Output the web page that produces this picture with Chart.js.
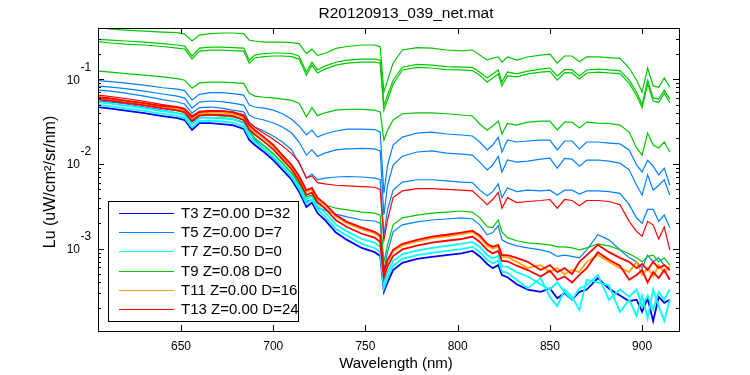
<!DOCTYPE html>
<html>
<head>
<meta charset="utf-8">
<script src="https://cdn.jsdelivr.net/npm/chart.js@4.4.1/dist/chart.umd.min.js"></script>
<style>
  html, body { margin: 0; padding: 0; background: #fff; }
  canvas { display: block; }
</style>
</head>
<body>
<canvas id="myChartLu" width="750" height="375"></canvas>
<script>
// Longitudes de onda (nm)
var wavelength = [605,612,620,630,640,648,652,656,660,666,672,678,684,687,690,695,700,705,710,714,
  718,721,724,728,734,740,748,755,758,760,762,765,770,778,786,794,802,808,812,816,
  819,822,824,827,832,838,845,850,854,858,862,866,870,876,882,888,893,897,900,903,906,909,912,915];

// T3 (azul oscuro)
var t3_1 = [.0468,.0449,.0425,.0397,.0366,.0347,.0329,.0251,.0303,.0303,.0295,.0287,.0258,.0191,.0167,.0138,.0111,.0085,.0065,.0047,
  .0031,.0035,.00263,.00218,.00155,.00127,.00102,.00091,.00082,.00031,.0004,.00056,.00068,.00076,.0008,.00084,.00088,.00094,.00081,.00066,
  .00059,.00064,.00049,.00046,.00038,.00033,.00031,.00034,.00026,.0003,.00025,.00031,.00033,.00045,.00034,.00028,.00024,.00025,.00018,.00026,.00014,.00027,.00023,.00025];

// T5 (azul claro)
var t5_1 = [.096,.0935,.0897,.085,.079,.076,.073,.0566,.066,.0693,.0693,.0675,.0648,.0494,.0468,.0455,.043,.039,.0335,.028,
  .0219,.025,.0207,.0225,.0244,.0257,.0257,.0254,.0237,.0045,.0097,.0167,.0207,.0231,.0237,.0225,.0219,.0213,.0181,.0146,
  .0167,.0207,.0138,.0191,.0181,.0186,.0191,.0191,.0146,.0186,.0186,.015,.0181,.0181,.0176,.0172,.0146,.0097,.008,.011,.0094,.0074,.0089,.0056];
var t5_2 = [.0827,.0805,.0773,.0722,.0666,.063,.0597,.0455,.0536,.0551,.0543,.0521,.0494,.0377,.0347,.0329,.0303,.0272,.0231,.0181,
  .0127,.0146,.0123,.0134,.0146,.015,.0152,.015,.0142,.0025,.0056,.0097,.0123,.0138,.0142,.0134,.013,.0127,.0105,.0085,
  .0097,.0123,.008,.0111,.0105,.0108,.0114,.0117,.0089,.0116,.0114,.0094,.0111,.0111,.0108,.0102,.0085,.0056,.0043,.0074,.0049,.0056,.0065,.0043];
var t5_3 = [.0742,.0722,.0684,.063,.0573,.0536,.0508,.0397,.0461,.0468,.0455,.043,.041,.0311,.0272,.0244,.0213,.0181,.0146,.0102,
  .0068,.0076,.0065,.0068,.007,.0071,.007,.0068,.0065,.00145,.0029,.0049,.0061,.0065,.0065,.0063,.0061,.006,.0049,.0042,
  .0047,.0058,.004,.0052,.0047,.0049,.0048,.0049,.0043,.0049,.0049,.0044,.0048,.0048,.0047,.0045,.0033,.0023,.002,.0029,.0029,.0021,.0025,.00177];
var t5_4 = [.055,.0536,.0508,.0468,.0431,.0397,.0381,.0311,.0357,.0352,.0347,.0338,.0311,.0237,.0191,.015,.0117,.0092,.007,.0052,
  .0036,.0038,.003,.00287,.00256,.00237,.00218,.00212,.002,.00056,.00091,.00158,.00191,.00207,.00218,.00224,.00231,.00224,.00191,.00146,
  .00155,.00186,.00127,.00117,.00108,.00102,.00097,.00091,.00081,.00084,.00081,.00078,.00097,.00146,.00127,.00097,.00078,.0007,.00059,.00084,.0007,.00078,.00064,.00056];

// T7 (cian)
var t7_1 = [.0536,.0514,.0487,.0455,.042,.0397,.0376,.0295,.0347,.0351,.0345,.0336,.0301,.0229,.02,.0165,.0133,.0102,.0077,.0056,
  .0038,.0042,.0032,.0027,.00192,.0016,.0013,.00118,.00105,.00039,.00053,.00072,.00086,.00095,.00102,.00108,.00114,.0012,.00105,.00084,
  .00077,.00082,.00062,.00061,.00053,.00047,.00038,.00033,.0004,.00031,.00025,.00034,.00037,.00049,.00025,.00033,.00027,.00033,.00021,.00028,.00019,.00031,.00025,.00033];
var t7_2 = [.0497,.0477,.0451,.0422,.0389,.0368,.0349,.0269,.0321,.0323,.0316,.0306,.0276,.0207,.0181,.015,.012,.0092,.007,.0051,
  .0034,.0038,.0029,.0024,.0017,.00142,.00114,.00102,.00091,.00034,.00046,.00063,.00076,.00084,.00089,.00094,.00099,.00105,.00091,.00074,
  .00067,.00072,.00054,.00052,.00043,.00034,.00045,.00027,.00021,.00033,.00027,.00019,.00043,.0004,.00037,.00018,.00025,.00016,.00028,.00015,.00033,.00021,.00014,.00025];

// T9 (verde)
var t9_1 = [.41,.388,.378,.368,.358,.353,.339,.281,.33,.344,.349,.349,.344,.288,.281,.273,.273,.273,.269,.262,
  .2,.225,.19,.2,.23,.242,.252,.252,.24,.07,.097,.154,.22,.235,.232,.22,.215,.22,.192,.167,
  .177,.182,.158,.182,.167,.182,.192,.197,.154,.187,.187,.16,.183,.183,.179,.175,.135,.097,.07,.135,.083,.08,.103,.08];
var t9_2 = [.294,.288,.281,.273,.262,.252,.245,.186,.232,.238,.238,.235,.232,.167,.192,.2,.203,.203,.2,.186,
  .121,.158,.128,.142,.158,.167,.172,.172,.167,.049,.065,.097,.138,.149,.146,.14,.138,.137,.12,.103,
  .115,.128,.092,.121,.115,.124,.131,.135,.109,.129,.129,.109,.128,.131,.128,.126,.097,.07,.05,.097,.06,.058,.074,.058];
var t9_3 = [.276,.266,.258,.252,.242,.232,.226,.172,.214,.219,.219,.216,.214,.154,.177,.184,.187,.187,.184,.172,
  .111,.146,.118,.131,.146,.154,.158,.158,.154,.043,.057,.087,.128,.137,.135,.129,.128,.126,.111,.092,
  .103,.115,.083,.109,.106,.115,.121,.123,.097,.119,.118,.1,.118,.121,.118,.116,.089,.064,.046,.088,.055,.053,.068,.053];
var t9_4 = [.124,.121,.116,.111,.106,.101,.097,.078,.09,.092,.092,.091,.089,.068,.063,.061,.06,.058,.056,.052,
  .036,.046,.037,.04,.043,.044,.044,.043,.041,.019,.025,.033,.039,.04,.04,.039,.0377,.0367,.0295,.025,
  .028,.032,.0225,.03,.0287,.0311,.032,.032,.0251,.0311,.0311,.0265,.0311,.0303,.03,.0287,.0237,.0154,.0127,.0231,.0167,.0154,.0181,.0138];
var t9_5 = [.0581,.0566,.0536,.05,.0455,.0425,.0408,.0329,.0376,.0376,.0366,.0357,.0329,.0251,.0202,.0162,.0131,.0102,.0078,.0059,
  .0041,.0043,.0035,.0033,.003,.00287,.0027,.00263,.00249,.0007,.00111,.00191,.00231,.00249,.00263,.0027,.00278,.0027,.00231,.00182,
  .00177,.00218,.00158,.00135,.00124,.00117,.00114,.00111,.00105,.00105,.00102,.00097,.00102,.00114,.00108,.00097,.00087,.00078,.0007,.00081,.00084,.0007,.00078,.00064];

// T11 (naranja)
var t11_1 = [.0605,.0581,.055,.0514,.0474,.0449,.0425,.0342,.0392,.0403,.0403,.0392,.0352,.0276,.0241,.0199,.016,.0122,.0093,.0069,
  .0047,.005,.0038,.0033,.0024,.002,.0017,.00152,.00137,.00051,.00071,.00093,.00109,.00122,.00133,.0014,.00149,.00157,.00137,.00109,
  .001,.00107,.0008,.0008,.0007,.00059,.00064,.00053,.00059,.0005,.00056,.00053,.0007,.00084,.0007,.00059,.00053,.0007,.00049,.00059,.00047,.00064,.00053,.00062];

// T13 (rojo)
var t13_1 = [.0648,.0622,.059,.0545,.05,.047,.045,.037,.0415,.0425,.042,.041,.038,.0305,.027,.023,.0195,.0163,.0132,.0105,
  .0068,.0072,.006,.0058,.0056,.0055,.0054,.0053,.005,.00126,.0022,.004,.0048,.0051,.0051,.005,.0049,.0048,.004,.0033,
  .0038,.0046,.003,.004,.0035,.0036,.0037,.0038,.003,.0038,.0037,.0032,.0037,.0037,.0036,.0033,.0021,.0016,.0014,.0021,.0019,.0013,.0018,.00097];
var t13_2 = [.0613,.059,.0558,.0521,.0481,.0468,.0443,.0357,.0408,.042,.042,.0408,.0366,.0287,.0251,.0207,.0167,.0127,.0097,.0072,
  .0049,.0052,.004,.0034,.00249,.00207,.00177,.00158,.00143,.00053,.00074,.00097,.00114,.00127,.00139,.00146,.00155,.00163,.00143,.00114,
  .00105,.00111,.00084,.00084,.00078,.0007,.00056,.00064,.00053,.00059,.0005,.0007,.00084,.00111,.00091,.00078,.0007,.00059,.00066,.00056,.0007,.00059,.00064,.00056];
var t13_3 = [.0577,.0553,.0524,.049,.0451,.0427,.0405,.032,.0373,.038,.0377,.0367,.033,.0254,.0222,.0183,.0148,.0113,.0086,.0063,
  .0043,.0046,.0035,.003,.00216,.0018,.0015,.00135,.0012,.00045,.00062,.00082,.00098,.00109,.00118,.00124,.0013,.00139,.0012,.00097,
  .00088,.00094,.00072,.00071,.00063,.00056,.00047,.00055,.00043,.00047,.0004,.00049,.00059,.00091,.00074,.00063,.00043,.00049,.00056,.0004,.00053,.00045,.00056,.00043];

// Leyenda y ejes
var legendLabels = ['T3 Z=0.00 D=32', 'T5 Z=0.00 D=7', 'T7 Z=0.50 D=0', 'T9 Z=0.08 D=0', 'T11 Z=0.00 D=16', 'T13 Z=0.00 D=24'];
var legendColors = ['#0000ff', '#0080ff', '#00ffff', '#00c800', '#ffa500', '#ff0000'];
var xTicks = [650, 700, 750, 800, 850, 900];
var yExponents = [-3, -2, -1];

// Series agrupadas en el orden de trazado de MATLAB (la última queda encima)
var groups = [
  [t3_1],
  [t5_1, t5_2, t5_3, t5_4],
  [t7_1, t7_2],
  [t9_1, t9_2, t9_3, t9_4, t9_5],
  [t11_1],
  [t13_1, t13_2, t13_3]
];
// Curvas del grupo denso inferior (se dibujan algo más gruesas)
var denseSeries = [t3_1, t7_1, t7_2, t11_1, t13_2, t13_3];

var datasets = [];
groups.forEach(function (series, g) {
  series.forEach(function (values) {
    datasets.push({
      data: wavelength.map(function (w, i) { return { x: w, y: values[i] }; }),
      borderColor: legendColors[g],
      borderWidth: denseSeries.indexOf(values) >= 0 ? 1.8 : 1.2,
      pointRadius: 0,
      fill: false,
      tension: 0,
      clip: 0
    });
  });
});
datasets.forEach(function (d, i) { d.order = -i; });

var FONT = '"Liberation Sans", Arial, sans-serif';

// Marco, marcas hacia dentro, etiquetas y leyenda al estilo MATLAB
var matlabAxes = {
  id: 'matlabAxes',
  afterDatasetsDraw: function (chart) {
    var ctx = chart.ctx, a = chart.chartArea;
    var x = chart.scales.x, y = chart.scales.y;
    ctx.save();
    ctx.strokeStyle = '#000';
    ctx.fillStyle = '#000';
    ctx.lineWidth = 1;

    // marcas del eje x
    ctx.beginPath();
    xTicks.forEach(function (v) {
      var px = Math.round(x.getPixelForValue(v)) + 0.5;
      ctx.moveTo(px, a.bottom); ctx.lineTo(px, a.bottom - 6);
      ctx.moveTo(px, a.top); ctx.lineTo(px, a.top + 6);
    });
    // marcas del eje y (mayores y menores)
    for (var e = -4; e <= -1; e++) {
      for (var m = 1; m <= 9; m++) {
        var v = m * Math.pow(10, e);
        if (v < y.min || v > y.max) continue;
        var py = Math.round(y.getPixelForValue(v)) + 0.5;
        var len = m === 1 ? 6 : 3;
        ctx.moveTo(a.left, py); ctx.lineTo(a.left + len, py);
        ctx.moveTo(a.right, py); ctx.lineTo(a.right - len, py);
      }
    }
    ctx.stroke();
    ctx.strokeRect(a.left + 0.5, a.top + 0.5, a.right - a.left, a.bottom - a.top);

    // etiquetas x
    ctx.font = '12px ' + FONT;
    ctx.textAlign = 'center';
    ctx.textBaseline = 'alphabetic';
    xTicks.forEach(function (v) {
      ctx.fillText(String(v), x.getPixelForValue(v), a.bottom + 19);
    });
    // etiquetas y: 10 con exponente
    yExponents.forEach(function (k) {
      var py = y.getPixelForValue(Math.pow(10, k));
      ctx.textAlign = 'right';
      ctx.fillText('10', 80, py + 4.5);
      ctx.textAlign = 'left';
      ctx.fillText(String(k), 80.5, py - 8.5);
    });

    // títulos
    ctx.font = '15.5px ' + FONT;
    ctx.textAlign = 'center';
    ctx.fillText('R20120913_039_net.mat', 406, 17.5);
    ctx.font = '15px ' + FONT;
    ctx.fillText('Wavelength (nm)', 396, 368);
    ctx.save();
    ctx.translate(51, 182);
    ctx.rotate(-Math.PI / 2);
    ctx.textBaseline = 'middle';
    ctx.font = '16px ' + FONT;
    ctx.fillText('Lu (uW/cm\u00b2/sr/nm)', 0, 0);
    ctx.restore();

    // leyenda
    ctx.fillStyle = '#fff';
    ctx.fillRect(108, 201, 191, 121);
    ctx.strokeRect(108.5, 201.5, 190, 120);
    ctx.font = '15px ' + FONT;
    ctx.textAlign = 'left';
    ctx.textBaseline = 'middle';
    legendLabels.forEach(function (lab, i) {
      var ry = Math.round(213 + i * 19.2) + 0.5;
      ctx.strokeStyle = legendColors[i];
      ctx.beginPath();
      ctx.moveTo(119, ry); ctx.lineTo(174, ry);
      ctx.stroke();
      ctx.fillStyle = '#000';
      ctx.fillText(lab, 181, ry);
    });
    ctx.restore();
  }
};

var whiteBg = {
  id: 'whiteBg',
  beforeDraw: function (chart) {
    var ctx = chart.ctx;
    ctx.save();
    ctx.fillStyle = '#fff';
    ctx.fillRect(0, 0, chart.width, chart.height);
    ctx.restore();
  }
};

var ctx = document.getElementById('myChartLu').getContext('2d');
window.myChart = new Chart(ctx, {
  type: 'line',
  data: { datasets: datasets },
  options: {
    responsive: false,
    animation: false,
    devicePixelRatio: 1,
    layout: { padding: { left: 98, right: 71, top: 28, bottom: 44 } },
    scales: {
      x: { type: 'linear', min: 605, max: 920, display: false },
      y: { type: 'logarithmic', min: 1.07e-4, max: 0.4, display: false }
    },
    plugins: {
      legend: { display: false },
      tooltip: { enabled: false }
    }
  },
  plugins: [whiteBg, matlabAxes]
});
</script>
</body>
</html>
